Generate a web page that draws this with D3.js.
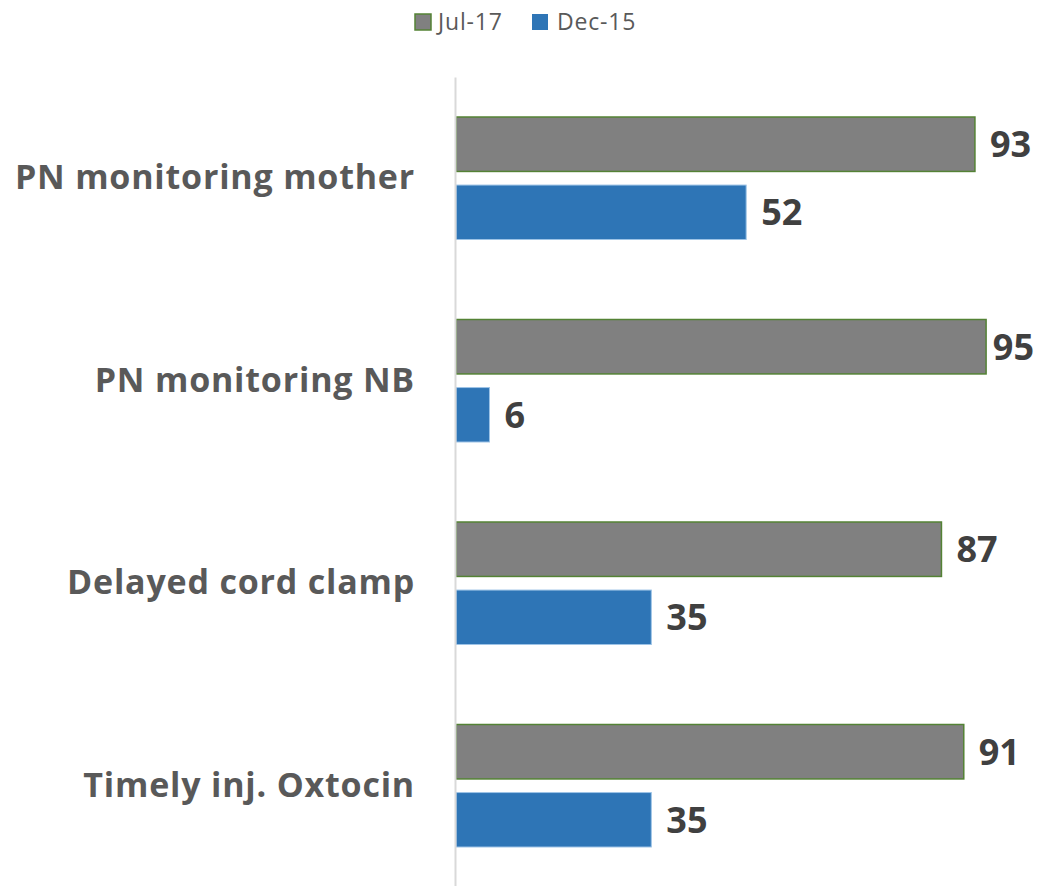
<!DOCTYPE html>
<html>
<head>
<meta charset="utf-8">
<script src="https://cdn.jsdelivr.net/npm/d3@7"></script>
<style>
  body { margin: 0; background: #fff; }
  text { font-family: "Open Sans", sans-serif; }
</style>
</head>
<body>
<svg id="chart" width="1038" height="886"></svg>
<script>
const categories = ['PN monitoring mother', 'PN monitoring NB', 'Delayed cord clamp', 'Timely inj. Oxtocin'];
const seriesNames = ['Jul-17', 'Dec-15'];
const jul17 = [93, 95, 87, 91];
const dec15 = [52, 6, 35, 35];

const colors = { 'Jul-17': '#808080', 'Dec-15': '#2E75B6' };
const strokes = { 'Jul-17': '#548235', 'Dec-15': '#9DC3E6' };

const svg = d3.select('#chart');
const W = 1038;
const left = 456;

const y = d3.scaleBand().domain(categories).range([77, 887]);
const ySub = d3.scaleBand().domain(seriesNames).range([40, y.bandwidth() - 40]).paddingInner(0.2);
const x = d3.scaleLinear().domain([0, 100]).range([left, left + 558]);

const rows = categories.map((c, i) => ({ cat: c, vals: [
  { s: 'Jul-17', v: jul17[i] }, { s: 'Dec-15', v: dec15[i] }
]}));

const g = svg.selectAll('g.cat').data(rows).join('g')
  .attr('class', 'cat')
  .attr('transform', d => `translate(0,${y(d.cat)})`);

g.selectAll('rect').data(d => d.vals).join('rect')
  .attr('x', x(0))
  .attr('y', d => ySub(d.s))
  .attr('width', d => x(d.v) - x(0))
  .attr('height', ySub.bandwidth())
  .attr('fill', d => colors[d.s])
  .attr('stroke', d => strokes[d.s])
  .attr('stroke-width', d => d.s === 'Jul-17' ? 1.5 : 1);

const vals = g.selectAll('text.val').data(d => d.vals).join('text')
  .attr('class', 'val')
  .attr('y', d => ySub(d.s) + ySub.bandwidth() / 2)
  .attr('dy', '0.36em')
  .attr('font-size', 36)
  .attr('font-weight', 'bold')
  .attr('fill', '#404040')
  .text(d => d.v);
// keep labels inside the chart like Excel does
vals.attr('x', function(d) {
  const w = this.getComputedTextLength();
  return Math.min(x(d.v) + 15, W - 4 - w);
});

// category axis
const axis = svg.append('g').attr('transform', `translate(${left - 1},0)`)
  .call(d3.axisLeft(y).tickSize(0).tickPadding(40));
axis.select('.domain').attr('stroke', '#d9d9d9').attr('stroke-width', 2);
axis.selectAll('text')
  .attr('font-size', 34)
  .attr('font-weight', 'bold')
  .attr('letter-spacing', 0.8)
  .attr('fill', '#595959')
  .attr('font-family', '"Open Sans", sans-serif');

// legend
const legend = svg.append('g');
const legX = [415, 532];
const legTextX = [438, 557];
seriesNames.forEach((s, i) => {
  legend.append('rect')
    .attr('x', legX[i]).attr('y', 14)
    .attr('width', 16).attr('height', 16)
    .attr('fill', colors[s])
    .attr('stroke', s === 'Jul-17' ? strokes[s] : 'none')
    .attr('stroke-width', 1.5);
  legend.append('text')
    .attr('x', legTextX[i]).attr('y', 22)
    .attr('dy', '0.36em')
    .attr('font-size', 23)
    .attr('letter-spacing', 0.8)
    .attr('fill', '#595959')
    .text(s);
});
</script>
</body>
</html>
